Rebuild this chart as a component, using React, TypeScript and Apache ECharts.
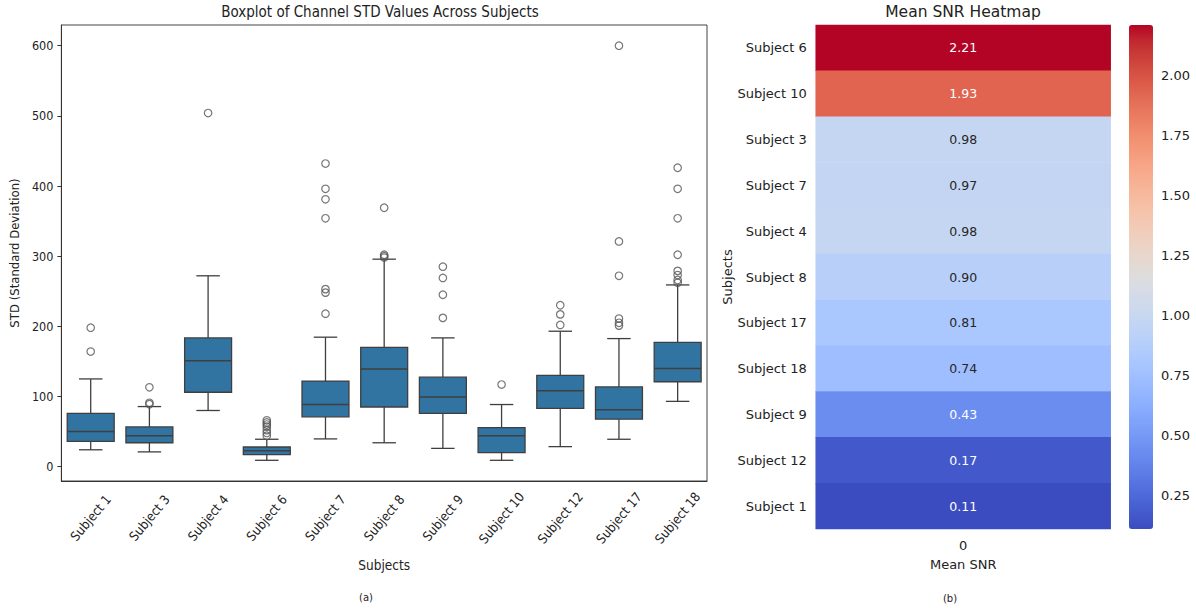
import React, { useEffect, useRef } from "react";
import * as echarts from "echarts";

// ---------- Boxplot data ----------
const subjects = [
  "Subject 1", "Subject 3", "Subject 4", "Subject 6", "Subject 7", "Subject 8",
  "Subject 9", "Subject 10", "Subject 12", "Subject 17", "Subject 18",
];
const lowWhisker = [24, 21, 80, 9, 39.5, 34, 26, 9, 28.5, 39, 93];
const q1 = [36, 34, 106, 17, 71, 85, 76, 20, 83, 67.6, 121];
const median = [50, 44, 151, 22.5, 88.5, 139, 99.4, 44, 108, 81, 140];
const q3 = [76, 56.6, 183.5, 28, 122, 170, 127.5, 55.6, 130, 113.6, 177];
const highWhisker = [125, 85.6, 272, 39, 184.5, 295.7, 183.5, 88.5, 193, 182.5, 259];

const outliers1 = [164, 198];
const outliers3 = [89, 91, 113];
const outliers4 = [504];
const outliers6 = [44, 48, 52, 57, 60, 63, 66];
const outliers7 = [218, 248, 253, 354, 381, 396, 432];
const outliers8 = [298, 300, 302, 369];
const outliers9 = [212, 245, 269, 285];
const outliers10 = [117];
const outliers12 = [202, 217, 230];
const outliers17 = [201, 205, 211, 272, 321, 600];
const outliers18 = [262, 266, 273, 279, 302, 354, 396, 426];
const outlierLists = [
  outliers1, outliers3, outliers4, outliers6, outliers7, outliers8,
  outliers9, outliers10, outliers12, outliers17, outliers18,
];
const stdTicks = [0, 100, 200, 300, 400, 500, 600];

// ---------- Heatmap data ----------
const heatSubjects = [
  "Subject 6", "Subject 10", "Subject 3", "Subject 7", "Subject 4", "Subject 8",
  "Subject 17", "Subject 18", "Subject 9", "Subject 12", "Subject 1",
];
const meanSnr = [2.21, 1.93, 0.98, 0.97, 0.98, 0.9, 0.81, 0.74, 0.43, 0.17, 0.11];
const heatColumns = ["0"];
const colorbarTicks = [0.25, 0.5, 0.75, 1.0, 1.25, 1.5, 1.75, 2.0];

// coolwarm colormap stops
const coolwarm = [
  "#3b4cc0", "#445acc", "#4d68d7", "#5775e1", "#6282ea", "#6c8ef1", "#779af7",
  "#82a5fb", "#8db0fe", "#98b9ff", "#a3c2ff", "#aec9fd", "#b8d0f9", "#c2d5f4",
  "#ccd9ee", "#d5dbe6", "#dddddd", "#e5d8d1", "#ecd3c5", "#f1ccb8", "#f5c4ac",
  "#f7bba0", "#f7b194", "#f7a687", "#f49a7b", "#f18d6f", "#ec7f63", "#e57058",
  "#de604d", "#d55042", "#cb3e38", "#c0282f", "#b40426",
];

const LEFT_FONT = "'DejaVu Sans Condensed', 'DejaVu Sans', sans-serif";
const FONT = "'DejaVu Sans', sans-serif";
const TEXT = "#222222";
const LINE = "#3f3f3f";
const BOX_FILL = "#3274a1";

export default function App() {
  const ref = useRef<HTMLDivElement>(null);

  useEffect(() => {
    if (!ref.current) return;
    const chart = echarts.init(ref.current, null, { renderer: "svg" });

    const boxData = subjects.map((_, i) => [
      i, lowWhisker[i], q1[i], median[i], q3[i], highWhisker[i],
    ]);
    const outlierData: number[][] = [];
    outlierLists.forEach((list, i) => list.forEach((v) => outlierData.push([i, v])));
    const heatData = meanSnr.map((v, i) => [0, i, v]);

    const option: any = {
      animation: false,
      textStyle: { fontFamily: FONT },
      grid: [
        { left: 55, top: 25, width: 652, height: 456, show: true, borderColor: "#444", borderWidth: 1, backgroundColor: "transparent" },
        { left: 815.7, top: 25, width: 295, height: 504 },
        { left: 1129, top: 25, width: 24, height: 504 },
      ],
      xAxis: [
        {
          gridIndex: 0,
          type: "category",
          data: subjects,
          axisLine: { onZero: false, lineStyle: { color: "#333", width: 1 } },
          axisTick: { alignWithLabel: true, length: 4, lineStyle: { color: "#333" } },
          axisLabel: {
            rotate: 50, align: "center", verticalAlign: "middle", margin: 37,
            fontSize: 13, color: TEXT, fontFamily: LEFT_FONT, interval: 0,
          },
          name: "Subjects",
          nameLocation: "middle",
          nameGap: 77,
          nameTextStyle: { fontSize: 13.5, color: TEXT, fontFamily: LEFT_FONT },
        },
        {
          gridIndex: 1,
          type: "category",
          data: heatColumns,
          axisLine: { show: false },
          axisTick: { alignWithLabel: true, length: 5, lineStyle: { color: "#333" } },
          axisLabel: { fontSize: 13, color: TEXT, margin: 10 },
          name: "Mean SNR",
          nameLocation: "middle",
          nameGap: 29,
          nameTextStyle: { fontSize: 13, color: TEXT },
        },
        { gridIndex: 2, type: "value", show: false, min: 0, max: 1 },
      ],
      yAxis: [
        {
          gridIndex: 0,
          type: "value",
          min: -20.5,
          max: 629.5,
          splitLine: { show: false },
          axisLine: { show: true, onZero: false, lineStyle: { color: "#333", width: 1 } },
          axisTick: { show: true, length: 4, customValues: stdTicks, lineStyle: { color: "#333" } },
          axisLabel: { customValues: stdTicks, fontSize: 12.5, color: TEXT, margin: 8, fontFamily: LEFT_FONT },
          name: "STD (Standard Deviation)",
          nameLocation: "middle",
          nameGap: 32,
          nameTextStyle: { fontSize: 13, color: TEXT, fontFamily: LEFT_FONT },
        },
        {
          gridIndex: 1,
          type: "category",
          data: heatSubjects,
          inverse: true,
          axisLine: { show: false },
          axisTick: { alignWithLabel: true, length: 5, lineStyle: { color: "#333" } },
          axisLabel: { fontSize: 13, color: TEXT, margin: 9 },
          name: "Subjects",
          nameLocation: "middle",
          nameGap: 80,
          nameTextStyle: { fontSize: 13, color: TEXT },
        },
        {
          gridIndex: 2,
          type: "value",
          position: "right",
          min: 0.11,
          max: 2.21,
          splitLine: { show: false },
          axisLine: { show: false },
          axisTick: { show: true, length: 4, customValues: colorbarTicks, lineStyle: { color: "#333" } },
          axisLabel: {
            customValues: colorbarTicks, fontSize: 13, color: TEXT, margin: 8,
            formatter: (v: number) => v.toFixed(2),
          },
        },
      ],
      visualMap: {
        type: "continuous",
        seriesIndex: 2,
        min: 0.11,
        max: 2.21,
        left: 1129,
        top: 25,
        itemWidth: 24,
        itemHeight: 504,
        padding: 0,
        calculable: false,
        text: null,
        showLabel: false,
        inRange: { color: coolwarm },
      },
      series: [
        {
          type: "custom",
          xAxisIndex: 0,
          yAxisIndex: 0,
          data: boxData,
          encode: { x: 0, y: [1, 2, 3, 4, 5] },
          renderItem: (params: any, api: any) => {
            const xi = api.value(0);
            const lo = api.coord([xi, api.value(1)]);
            const a = api.coord([xi, api.value(2)]);
            const m = api.coord([xi, api.value(3)]);
            const b = api.coord([xi, api.value(4)]);
            const hi = api.coord([xi, api.value(5)]);
            const bw = api.size([1, 0])[0];
            const hw = bw * 0.4;
            const cw = bw * 0.2;
            const cx = lo[0];
            const ls = { stroke: LINE, lineWidth: 1.3 };
            return {
              type: "group",
              children: [
                { type: "line", shape: { x1: cx, y1: b[1], x2: cx, y2: hi[1] }, style: ls },
                { type: "line", shape: { x1: cx, y1: lo[1], x2: cx, y2: a[1] }, style: ls },
                { type: "line", shape: { x1: cx - cw, y1: hi[1], x2: cx + cw, y2: hi[1] }, style: ls },
                { type: "line", shape: { x1: cx - cw, y1: lo[1], x2: cx + cw, y2: lo[1] }, style: ls },
                {
                  type: "rect",
                  shape: { x: cx - hw, y: b[1], width: 2 * hw, height: a[1] - b[1] },
                  style: { fill: BOX_FILL, stroke: LINE, lineWidth: 1.3 },
                },
                { type: "line", shape: { x1: cx - hw, y1: m[1], x2: cx + hw, y2: m[1] }, style: { stroke: LINE, lineWidth: 1.5 } },
              ],
            };
          },
          z: 2,
        },
        {
          type: "scatter",
          xAxisIndex: 0,
          yAxisIndex: 0,
          data: outlierData,
          symbol: "circle",
          symbolSize: 7.5,
          itemStyle: { color: "rgba(0,0,0,0)", borderColor: "#555", borderWidth: 1.2 },
          z: 3,
        },
        {
          type: "heatmap",
          xAxisIndex: 1,
          yAxisIndex: 1,
          data: heatData,
          label: {
            show: true,
            fontSize: 12.5,
            formatter: (p: any) => {
              const v = p.value[2];
              const s = v.toFixed(2);
              return v > 1.5 || v < 0.6 ? `{w|${s}}` : `{d|${s}}`;
            },
            rich: {
              w: { color: "#ffffff", fontSize: 12.5, fontFamily: FONT },
              d: { color: "#262626", fontSize: 12.5, fontFamily: FONT },
            },
          },
          emphasis: { disabled: true },
        },
      ],
      graphic: [
        {
          type: "text", x: 380, y: 12,
          style: { text: "Boxplot of Channel STD Values Across Subjects", fontSize: 15, fontFamily: LEFT_FONT, fill: TEXT, textAlign: "center", textVerticalAlign: "middle" },
        },
        {
          type: "text", x: 963, y: 12,
          style: { text: "Mean SNR Heatmap", fontSize: 15.5, fontFamily: FONT, fill: TEXT, textAlign: "center", textVerticalAlign: "middle" },
        },
        {
          type: "text", x: 366, y: 597,
          style: { text: "(a)", fontSize: 10, fontFamily: FONT, fill: TEXT, textAlign: "center", textVerticalAlign: "middle" },
        },
        {
          type: "text", x: 950, y: 598,
          style: { text: "(b)", fontSize: 10, fontFamily: FONT, fill: TEXT, textAlign: "center", textVerticalAlign: "middle" },
        },
      ],
    };

    chart.setOption(option);
    return () => chart.dispose();
  }, []);

  return (
    <div
      ref={ref}
      style={{ position: "fixed", left: 0, top: 0, width: 1196, height: 608, background: "#ffffff" }}
    />
  );
}
